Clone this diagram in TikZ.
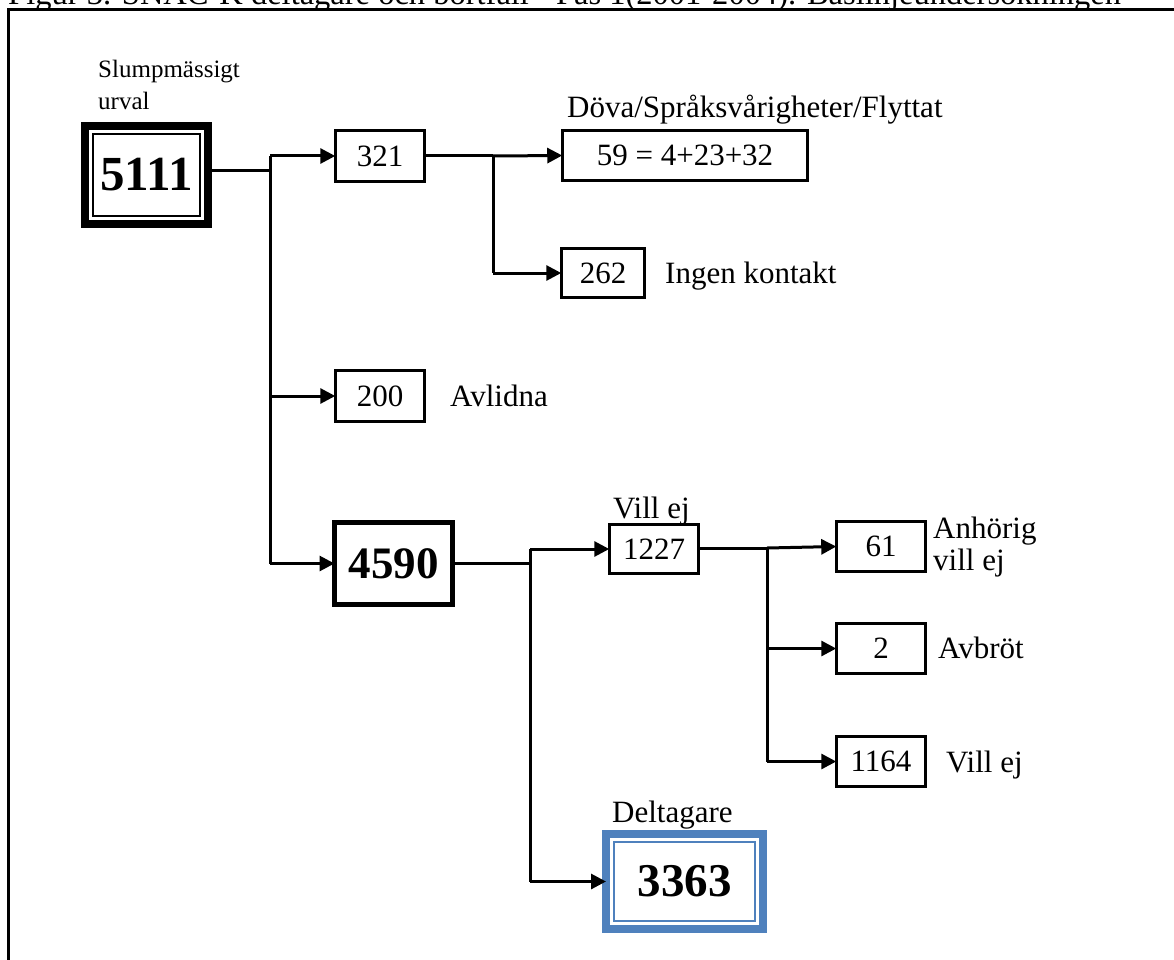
\documentclass[tikz,border=0pt]{standalone}
\usepackage{fontspec}
\setmainfont{Liberation Serif}
\usetikzlibrary{arrows.meta}
\definecolor{boxblue}{HTML}{4F81BD}
\tikzset{
  conn/.style={line width=3pt},
  arr/.style={conn,-{Triangle[length=15pt,width=15pt]}},
  numbox/.style={draw,line width=2.8pt,outer sep=0pt,inner sep=0pt,font=\fontsize{31}{36}\selectfont},
  bigbox/.style={draw,line width=8pt,outer sep=0pt,inner sep=0pt,font=\fontsize{45}{50}\selectfont\bfseries},
  midbox/.style={draw,line width=5.5pt,outer sep=0pt,inner sep=0pt,font=\fontsize{45}{50}\selectfont\bfseries},
  lbl/.style={anchor=base west,inner sep=0pt,font=\fontsize{31}{36}\selectfont},
  smalllbl/.style={anchor=base west,inner sep=0pt,font=\fontsize{25}{30}\selectfont},
}
\begin{document}
\begin{tikzpicture}[x=1pt,y=-1pt]
\useasboundingbox (0,0) rectangle (1174,960);
% title (cut off at the top)
\node[anchor=base west,inner sep=0pt,font=\fontsize{32.5}{36}\selectfont] (title) at (8,5) {Figur 3. SNAC-K deltagare och bortfall - Fas 1(2001-2004). Baslinjeundersökningen};
% outer frame
\draw[line width=2.5pt] (8.5,1000) -- (8.5,9.5) -- (1200,9.5);

% main nodes
\node[bigbox,font=\fontsize{49}{54}\selectfont\bfseries,minimum width=123pt,minimum height=98pt] (n5111) at (146.5,175) {5111};
\draw[line width=2pt] ([xshift=8pt,yshift=-8pt]n5111.north west) rectangle ([xshift=-8pt,yshift=8pt]n5111.south east);
\node[smalllbl] (lslump) at (98,78) {Slumpmässigt};
\node[smalllbl] (lurval) at (98,110) {urval};

\node[numbox,minimum width=89.5pt,minimum height=51.5pt] (n321) at (380,156) {321};
\node[numbox,minimum width=245.5pt,minimum height=50.5pt] (n59) at (685,155.5) {59 = 4+23+32};
\node[lbl] (ldova) at (567,118) {Döva/Språksvårigheter/Flyttat};
\node[numbox,minimum width=83.5pt,minimum height=49.5pt] (n262) at (603,273) {262};
\node[lbl] (lingen) at (665,283) {Ingen kontakt};

\node[numbox,minimum width=89.5pt,minimum height=51.5pt] (n200) at (380,396) {200};
\node[lbl] (lavl) at (450,406) {Avlidna};

\node[midbox,minimum width=118pt,minimum height=82pt] (n4590) at (393.5,563.5) {4590};

\node[numbox,minimum width=89.5pt,minimum height=49.5pt] (n1227) at (654,549) {1227};
\node[lbl] (lvill1) at (613,518) {Vill ej};

\node[numbox,minimum width=89.5pt,minimum height=50.5pt] (n61) at (881,546.5) {61};
\node[lbl] (lanh) at (933,538) {Anhörig};
\node[lbl] (lanh2) at (933,570) {vill ej};
\node[numbox,minimum width=89.5pt,minimum height=50.5pt] (n2) at (881,648.5) {2};
\node[lbl] (lavb) at (938,658) {Avbröt};
\node[numbox,minimum width=89.5pt,minimum height=50.5pt] (n1164) at (881,761.5) {1164};
\node[lbl] (lvill2) at (946,772) {Vill ej};

\node[bigbox,draw=boxblue,font=\fontsize{47}{52}\selectfont\bfseries,minimum width=157pt,minimum height=95pt] (n3363) at (684.5,881.5) {3363};
\draw[boxblue,line width=2pt] ([xshift=8pt,yshift=-8pt]n3363.north west) rectangle ([xshift=-8pt,yshift=8pt]n3363.south east);
\node[lbl] (ldelt) at (612,822) {Deltagare};

% junction coordinates
\coordinate (j1) at (270,171);
\coordinate (j2) at (493,156);
\coordinate (j3) at (530,563);
\coordinate (j4) at (767,548);

% connectors
\draw[conn] (n5111.east |- j1) -- (j1);
\draw[conn] (j1 |- n321.west) -- (j1 |- n4590.west);
\draw[arr] (j1 |- n321.west) -- (n321.west);
\draw[arr] (j1 |- n200.west) -- (n200.west);
\draw[arr] (j1 |- n4590.west) -- (n4590.west);

\draw[conn] (n321.east) -- (j2);
\draw[arr] (j2) -- (n59.west);
\draw[conn] (j2) -- (j2 |- n262.west);
\draw[arr] (j2 |- n262.west) -- (n262.west);

\draw[conn] (n4590.east |- j3) -- (j3);
\draw[conn] (j3 |- n1227.west) -- (j3 |- n3363.west);
\draw[arr] (j3 |- n1227.west) -- (n1227.west);
\draw[arr] (j3 |- n3363.west) -- (n3363.west);

\draw[conn] (n1227.east |- j4) -- (j4);
\draw[arr] (j4) -- (n61.west);
\draw[conn] (j4) -- (j4 |- n1164.west);
\draw[arr] (j4 |- n2.west) -- (n2.west);
\draw[arr] (j4 |- n1164.west) -- (n1164.west);
\end{tikzpicture}
\end{document}
